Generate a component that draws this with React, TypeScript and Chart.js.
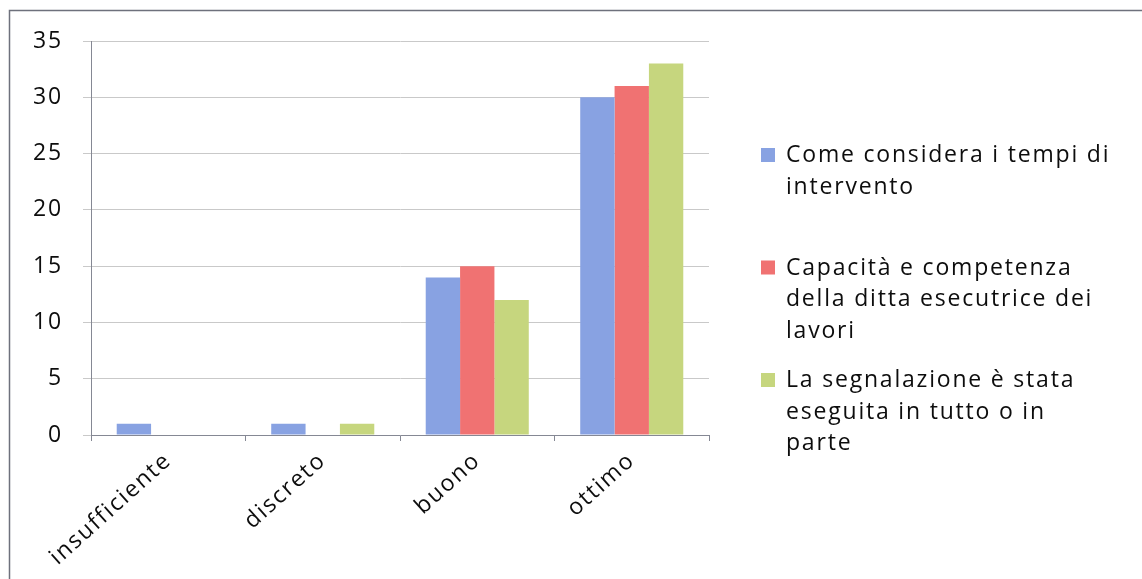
import React, { useEffect, useRef } from "react";
import { Chart, registerables } from "chart.js";

Chart.register(...registerables);

// Survey ratings and how many answers fell into each one
const categories = ["insufficiente", "discreto", "buono", "ottimo"];
const tempiIntervento = [1, 1, 14, 30];
const capacitaDitta = [0, 0, 15, 31];
const segnalazioneEseguita = [0, 1, 12, 33];

// Legend entries, already broken into lines
const seriesNames = [
  ["Come considera i tempi di", "intervento"],
  ["Capacità e competenza", "della ditta esecutrice dei", "lavori"],
  ["La segnalazione è stata", "eseguita in tutto o in", "parte"],
];
const seriesColors = ["#88a2e2", "#f07272", "#c6d67e"];

const yMin = 0;
const yMax = 35;
const yStep = 5;

const FONT_FAMILY = "'Open Sans', 'DejaVu Sans', sans-serif";
const FONT_SIZE = 23;
const TEXT_SPACING = "1.8px";
const TEXT_COLOR = "#0d0d0d";

// Wider letter spacing for every label the chart draws
const spacingPlugin = {
  id: "textSpacing",
  beforeUpdate(chart: any) {
    chart.ctx.letterSpacing = TEXT_SPACING;
  },
  beforeDraw(chart: any) {
    chart.ctx.letterSpacing = TEXT_SPACING;
  },
};

// Outer frame: top and left edges of the chart box
const framePlugin = {
  id: "frame",
  beforeDraw(chart: any) {
    const ctx = chart.ctx;
    ctx.save();
    ctx.strokeStyle = "#6e717c";
    ctx.lineWidth = 1.5;
    ctx.beginPath();
    ctx.moveTo(9.5, 579);
    ctx.lineTo(9.5, 10.5);
    ctx.lineTo(1142, 10.5);
    ctx.stroke();
    ctx.restore();
  },
};

// Legend on the right with wrapped labels, items spread evenly
const sideLegendPlugin = {
  id: "sideLegend",
  afterDraw(chart: any) {
    const ctx = chart.ctx;
    const boxX = 761;
    const textX = 786;
    const firstBaseline = 162;
    const itemGap = 112.5;
    const lineHeight = 31.5;
    const box = 14;
    ctx.save();
    ctx.letterSpacing = TEXT_SPACING;
    ctx.font = `${FONT_SIZE}px ${FONT_FAMILY}`;
    ctx.textAlign = "left";
    ctx.textBaseline = "alphabetic";
    chart.data.datasets.forEach((ds: any, i: number) => {
      const base = firstBaseline + i * itemGap;
      ctx.fillStyle = ds.backgroundColor;
      ctx.fillRect(boxX, base - box, box, box);
      ctx.fillStyle = TEXT_COLOR;
      (ds.legendLines as string[]).forEach((line, j) => {
        ctx.fillText(line, textX, base + j * lineHeight);
      });
    });
    ctx.restore();
  },
};

export default function App() {
  const canvasRef = useRef<HTMLCanvasElement | null>(null);

  useEffect(() => {
    const canvas = canvasRef.current;
    if (!canvas) return;
    const seriesData = [tempiIntervento, capacitaDitta, segnalazioneEseguita];
    const chart = new Chart(canvas, {
      type: "bar",
      data: {
        labels: categories,
        datasets: seriesData.map((values, i) => ({
          label: seriesNames[i].join(" "),
          legendLines: seriesNames[i],
          data: values,
          backgroundColor: seriesColors[i],
          borderWidth: 0,
          categoryPercentage: 0.667,
          barPercentage: 1,
        })) as any,
      },
      options: {
        responsive: false,
        animation: false,
        devicePixelRatio: 1,
        layout: { padding: { top: 41, right: 433, bottom: 0, left: 0 } },
        plugins: {
          legend: { display: false },
          tooltip: { enabled: false },
        },
        scales: {
          x: {
            offset: true,
            afterFit(scale: any) {
              scale.height = 144;
            },
            grid: {
              display: true,
              offset: true,
              drawOnChartArea: false,
              drawTicks: true,
              tickLength: 6,
              tickColor: "#858894",
            },
            border: { display: true, color: "#858894", width: 1 },
            ticks: {
              autoSkip: false,
              minRotation: 42,
              maxRotation: 42,
              padding: 6,
              color: TEXT_COLOR,
              font: { family: FONT_FAMILY, size: FONT_SIZE },
            },
          },
          y: {
            min: yMin,
            max: yMax,
            afterFit(scale: any) {
              scale.width = 91;
            },
            grid: {
              color: "#c9c9c9",
              lineWidth: 1,
              drawTicks: true,
              tickLength: 8,
              tickColor: "#c9c9c9",
            },
            border: { display: true, color: "#858894", width: 1 },
            ticks: {
              stepSize: yStep,
              padding: 20,
              color: TEXT_COLOR,
              font: { family: FONT_FAMILY, size: FONT_SIZE },
            },
          },
        },
      },
      plugins: [spacingPlugin, framePlugin, sideLegendPlugin],
    });
    return () => chart.destroy();
  }, []);

  return (
    <div style={{ position: "absolute", left: 0, top: 0, width: 1142, height: 579, background: "#fff" }}>
      <canvas ref={canvasRef} width={1142} height={579} style={{ display: "block" }} />
    </div>
  );
}
